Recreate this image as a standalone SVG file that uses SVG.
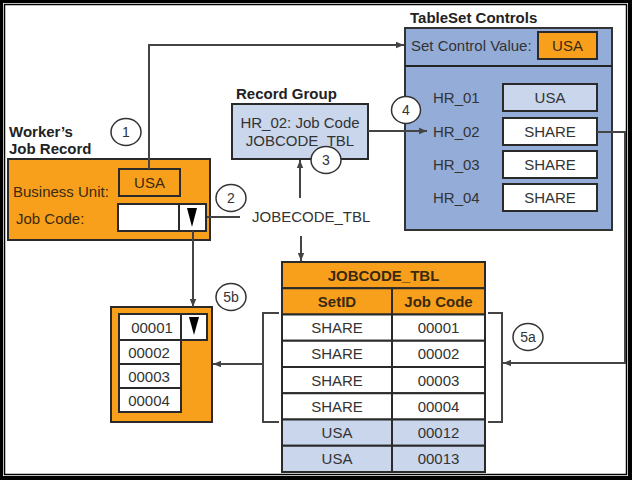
<svg xmlns="http://www.w3.org/2000/svg" width="632" height="480" viewBox="0 0 632 480">
<style>
text{font-family:"Liberation Sans",Arial,sans-serif;font-size:15px;fill:#333}
.b{font-weight:bold;fill:#222}
.c{text-anchor:middle}
.o{fill:#3a2a10}
.n{font-size:14px;text-anchor:middle;fill:#333}
.or{fill:#f8a01c;stroke:#2a2a2a;stroke-width:2}
.bl{fill:#c9d6ec;stroke:#2a2a2a;stroke-width:2}
.wh{fill:#fff;stroke:#2a2a2a;stroke-width:2}
.ln{fill:none;stroke:#444;stroke-width:2}
.cir{fill:#fff;stroke:#333;stroke-width:1.5}
</style>
<defs>
<marker id="ah" viewBox="0 0 10 10" refX="10" refY="5" markerWidth="8" markerHeight="8" markerUnits="userSpaceOnUse" orient="auto">
<path d="M0,1 L10,5 L0,9 z" fill="#444"/>
</marker>
</defs>
<rect x="0" y="0" width="632" height="480" fill="#000"/>
<rect x="3" y="3" width="625" height="473" fill="#fff"/>
<rect x="4.5" y="4.5" width="622" height="470" fill="#fff" stroke="#000" stroke-width="1.5"/>

<g id="worker-job-record">
<text class="b" x="9" y="137">Worker’s</text>
<text class="b" x="9" y="154">Job Record</text>
<rect class="or" x="8" y="159" width="202" height="81"/>
<text class="o" x="13" y="197">Business Unit:</text>
<rect class="or" x="119" y="169" width="61" height="27"/>
<text class="c o" x="149.5" y="188">USA</text>
<text class="o" x="16" y="224">Job Code:</text>
<rect class="wh" x="118" y="204" width="61" height="27"/>
<rect class="wh" x="179" y="204" width="27" height="27"/>
<path d="M187,208 L197,208 L192,227 z" fill="#000"/>
</g>

<g id="tableset-controls">
<text class="b" x="410" y="23">TableSet Controls</text>
<rect x="405" y="28" width="207" height="202" fill="#94acd8" stroke="#333" stroke-width="2"/>
<line x1="405" y1="66" x2="612" y2="66" stroke="#222" stroke-width="2"/>
<text x="411" y="51">Set Control Value:</text>
<rect class="or" x="538" y="32" width="59" height="27"/>
<text class="c o" x="567.5" y="51">USA</text>
<text x="433" y="103">HR_01</text>
<rect class="bl" x="503" y="84" width="94" height="27"/>
<text class="c" x="550" y="103">USA</text>
<text x="433" y="137">HR_02</text>
<rect class="wh" x="503" y="118" width="94" height="27"/>
<text class="c" x="550" y="137">SHARE</text>
<text x="433" y="170">HR_03</text>
<rect class="wh" x="503" y="151" width="94" height="27"/>
<text class="c" x="550" y="170">SHARE</text>
<text x="433" y="203">HR_04</text>
<rect class="wh" x="503" y="184" width="94" height="27"/>
<text class="c" x="550" y="203">SHARE</text>
</g>

<g id="record-group">
<text class="b" x="236" y="99">Record Group</text>
<rect class="bl" x="232" y="104" width="136" height="55"/>
<text class="c" x="300" y="128">HR_02: Job Code</text>
<text class="c" x="300" y="146">JOBCODE_TBL</text>
</g>

<g id="jobecode-label">
<text x="252" y="222">JOBECODE_TBL</text>
</g>

<g id="jobcode-table">
<rect x="282" y="262" width="203" height="26.25" fill="#f8a01c" stroke="#2a2a2a" stroke-width="2"/>
<text class="b c o" x="383.5" y="280.5">JOBCODE_TBL</text>
<rect x="282" y="288.25" width="110" height="26.25" fill="#f8a01c" stroke="#2a2a2a" stroke-width="2"/>
<rect x="392" y="288.25" width="93" height="26.25" fill="#f8a01c" stroke="#2a2a2a" stroke-width="2"/>
<text class="b c o" x="337" y="306.5">SetID</text>
<text class="b c o" x="438.5" y="306.5">Job Code</text>
<rect class="wh" x="282" y="314.5" width="110" height="26.25"/>
<rect class="wh" x="392" y="314.5" width="93" height="26.25"/>
<text class="c" x="337" y="333">SHARE</text><text class="c" x="438.5" y="333">00001</text>
<rect class="wh" x="282" y="340.75" width="110" height="26.25"/>
<rect class="wh" x="392" y="340.75" width="93" height="26.25"/>
<text class="c" x="337" y="359">SHARE</text><text class="c" x="438.5" y="359">00002</text>
<rect class="wh" x="282" y="367" width="110" height="26.25"/>
<rect class="wh" x="392" y="367" width="93" height="26.25"/>
<text class="c" x="337" y="385.5">SHARE</text><text class="c" x="438.5" y="385.5">00003</text>
<rect class="wh" x="282" y="393.25" width="110" height="26.25"/>
<rect class="wh" x="392" y="393.25" width="93" height="26.25"/>
<text class="c" x="337" y="411.5">SHARE</text><text class="c" x="438.5" y="411.5">00004</text>
<rect class="bl" x="282" y="419.5" width="110" height="26.25"/>
<rect class="bl" x="392" y="419.5" width="93" height="26.25"/>
<text class="c" x="337" y="438">USA</text><text class="c" x="438.5" y="438">00012</text>
<rect class="bl" x="282" y="445.75" width="110" height="26.25"/>
<rect class="bl" x="392" y="445.75" width="93" height="26.25"/>
<text class="c" x="337" y="464">USA</text><text class="c" x="438.5" y="464">00013</text>
</g>

<g id="jobcode-list">
<rect class="or" x="111" y="307" width="101" height="115"/>
<rect class="wh" x="119" y="314" width="62" height="26"/>
<rect class="wh" x="181" y="314" width="26" height="26"/>
<path d="M189,317 L199,317 L194,335 z" fill="#000"/>
<text class="c" x="152" y="333">00001</text>
<rect class="wh" x="119" y="340" width="62" height="24"/>
<text class="c" x="149" y="358">00002</text>
<rect class="wh" x="119" y="364" width="62" height="24"/>
<text class="c" x="149" y="382">00003</text>
<rect class="wh" x="119" y="388" width="62" height="24"/>
<text class="c" x="149" y="406">00004</text>
</g>

<g id="connectors">
<path class="ln" d="M149,169 V45 H404" marker-end="url(#ah)"/>
<path class="ln" d="M368,131 H427" marker-end="url(#ah)"/>
<path class="ln" d="M597,132 H625 V363 H503" marker-end="url(#ah)"/>
<path class="ln" d="M263,364 H213" marker-end="url(#ah)"/>
<path class="ln" d="M193,231 V307" marker-end="url(#ah)"/>
<path class="ln" d="M207,217 H240"/>
<path class="ln" d="M300,198 V160" marker-end="url(#ah)"/>
<path class="ln" d="M301,236 V261" marker-end="url(#ah)"/>
<path class="ln" d="M279,313 H263 V422 H279"/>
<path class="ln" d="M488,313 H502 V422 H488"/>
</g>

<g id="step-markers">
<ellipse class="cir" cx="126" cy="132" rx="15" ry="13.5"/><text class="n" x="126" y="137">1</text>
<ellipse class="cir" cx="231" cy="198" rx="15" ry="13.5"/><text class="n" x="231" y="203">2</text>
<ellipse class="cir" cx="326" cy="160" rx="15" ry="13.5"/><text class="n" x="326" y="165">3</text>
<ellipse class="cir" cx="406" cy="110" rx="14.5" ry="13.5"/><text class="n" x="406" y="115">4</text>
<ellipse class="cir" cx="231" cy="297" rx="15" ry="13.5"/><text class="n" x="231" y="302">5b</text>
<ellipse class="cir" cx="528" cy="337" rx="15" ry="13.5"/><text class="n" x="528" y="342">5a</text>
</g>
</svg>
